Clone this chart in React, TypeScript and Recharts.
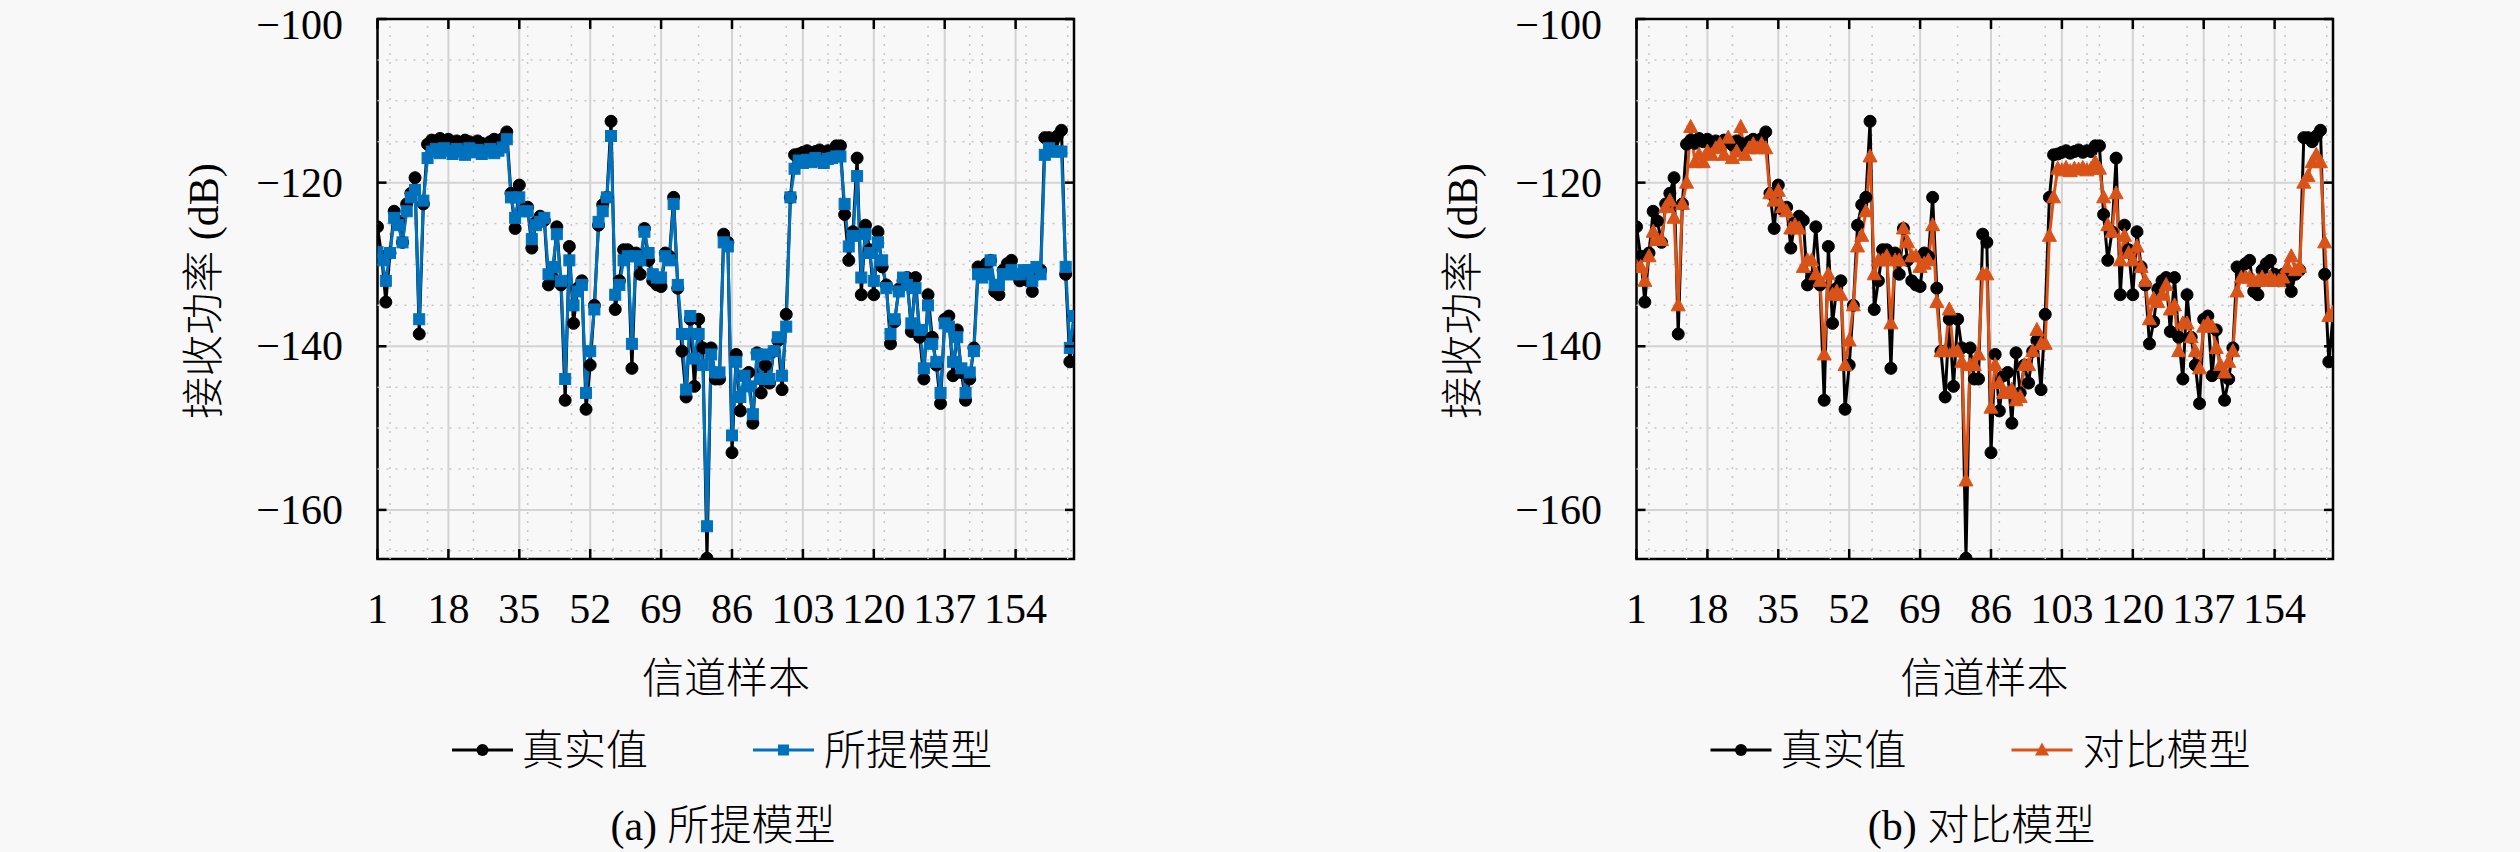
import React from 'react';
import { LineChart, Line, XAxis, YAxis, CartesianGrid, ReferenceLine, ReferenceArea } from 'recharts';

// ---------- data ----------
const samples: number[] = Array.from({ length: 168 }, (_, i) => i + 1);

const truth: number[] = [
  -125.4, -129.0, -134.6, -128.6, -123.5, -124.7, -127.3, -122.6, -121.3, -119.4,
  -138.5, -122.6, -115.3, -114.8, -115.2, -114.6, -115.0, -114.7, -115.1, -114.9,
  -115.3, -114.8, -115.0, -115.4, -114.9, -115.2, -115.6, -115.0, -114.7, -115.3,
  -114.6, -113.8, -121.3, -125.6, -120.3, -123.3, -123.0, -128.0, -124.8, -124.1,
  -124.6, -132.5, -131.6, -125.4, -132.5, -146.6, -127.8, -137.2, -132.9, -132.0,
  -147.7, -142.3, -135.0, -125.2, -122.7, -121.8, -112.5, -135.5, -132.0, -128.2,
  -128.2, -142.7, -128.6, -131.2, -125.6, -129.5, -132.0, -132.5, -132.7, -128.6,
  -129.0, -121.8, -132.9, -140.6, -146.2, -136.7, -144.9, -136.7, -140.2, -165.9,
  -140.2, -144.0, -144.0, -126.3, -127.3, -153.0, -141.0, -147.9, -143.6, -143.2,
  -149.4, -140.8, -145.7, -142.3, -144.5, -140.6, -139.3, -145.3, -136.1, -121.8,
  -116.6, -116.5, -116.3, -116.1, -116.4, -116.2, -116.0, -116.3, -116.1, -116.2,
  -115.5, -115.5, -123.9, -129.5, -126.0, -117.0, -133.7, -125.2, -128.2, -133.7,
  -126.0, -130.3, -132.5, -139.7, -137.0, -133.0, -132.0, -131.6, -138.2, -131.6,
  -138.9, -144.0, -133.7, -138.9, -142.3, -147.0, -136.7, -136.3, -143.6, -138.0,
  -143.2, -146.6, -144.0, -140.2, -130.3, -131.2, -129.9, -129.5, -133.3, -133.7,
  -130.7, -129.9, -129.5, -131.2, -132.0, -131.2, -132.0, -133.3, -131.2, -130.7,
  -114.5, -114.5, -115.0, -114.3, -113.6, -131.2, -141.9, -136.3,
];

const proposed: number[] = [
  -128.5, -129.5, -132.0, -128.6, -124.3, -125.2, -127.3, -123.5, -121.8, -120.9,
  -136.7, -122.2, -117.0, -116.2, -115.9, -116.4, -115.8, -116.1, -116.5, -115.9,
  -116.2, -116.6, -115.8, -116.3, -116.0, -116.5, -116.2, -115.9, -116.4, -116.1,
  -115.7, -114.7, -121.8, -124.3, -121.8, -123.5, -123.5, -126.9, -125.2, -124.8,
  -124.3, -131.2, -130.3, -126.3, -132.0, -144.0, -129.5, -135.0, -133.3, -132.5,
  -145.7, -140.6, -135.5, -124.8, -123.5, -121.8, -114.3, -133.7, -132.5, -129.5,
  -129.0, -139.7, -129.0, -129.5, -126.0, -128.6, -131.2, -131.6, -131.6, -129.0,
  -129.5, -122.6, -132.5, -138.5, -145.3, -136.3, -141.5, -138.5, -142.3, -162.0,
  -141.0, -143.2, -143.2, -127.3, -127.8, -150.9, -141.9, -146.2, -143.6, -144.9,
  -148.3, -141.0, -144.0, -141.0, -144.0, -140.6, -138.9, -143.6, -137.6, -121.8,
  -118.3, -117.3, -117.6, -117.2, -117.5, -117.0, -117.4, -117.6, -117.1, -117.0,
  -116.8, -116.8, -122.6, -127.8, -126.5, -119.2, -131.6, -126.3, -128.6, -132.0,
  -127.3, -129.5, -132.9, -138.5, -136.7, -133.3, -131.6, -132.5, -137.2, -132.9,
  -138.0, -142.7, -135.0, -139.7, -141.9, -145.7, -137.2, -137.6, -141.9, -138.9,
  -142.7, -145.7, -143.2, -140.6, -131.2, -131.6, -131.2, -129.5, -132.5, -132.5,
  -131.2, -131.2, -130.7, -131.2, -131.2, -130.7, -130.7, -132.0, -130.3, -131.2,
  -116.6, -115.8, -116.2, -116.2, -116.2, -130.3, -140.2, -136.3,
];

const comparison: number[] = [
  -130.3, -130.3, -132.0, -129.0, -126.0, -127.0, -127.0, -123.0, -122.2, -124.3,
  -135.0, -122.6, -120.0, -113.2, -117.5, -116.6, -117.5, -116.2, -116.6, -115.8,
  -115.3, -116.6, -114.5, -117.0, -116.2, -113.2, -116.6, -115.8, -115.3, -115.8,
  -115.3, -115.8, -121.3, -122.2, -121.0, -123.0, -123.5, -125.6, -125.2, -125.6,
  -130.3, -129.5, -129.5, -131.2, -132.0, -141.0, -131.2, -133.7, -133.3, -133.7,
  -142.3, -139.3, -135.0, -127.8, -126.5, -123.5, -116.8, -131.2, -129.5, -129.5,
  -129.0, -137.2, -129.5, -129.5, -125.6, -127.3, -129.0, -129.0, -130.3, -129.9,
  -129.5, -125.2, -134.6, -140.6, -140.6, -135.5, -140.6, -140.6, -141.9, -156.4,
  -142.3, -142.3, -141.0, -131.2, -131.2, -147.5, -142.3, -144.5, -145.7, -145.7,
  -145.3, -146.6, -146.2, -142.3, -142.3, -140.6, -138.0, -139.7, -139.7, -126.5,
  -121.8, -118.3, -118.5, -118.2, -118.6, -118.3, -118.4, -118.2, -118.5, -118.3,
  -117.5, -118.3, -121.8, -125.2, -126.0, -121.3, -129.5, -126.5, -128.6, -129.5,
  -127.8, -130.3, -132.0, -136.7, -134.2, -134.6, -133.7, -132.5, -135.5, -135.0,
  -140.6, -137.2, -137.2, -138.9, -140.6, -142.7, -137.6, -137.2, -137.6, -140.2,
  -142.3, -143.2, -141.9, -140.6, -133.3, -131.6, -131.6, -131.6, -132.0, -132.0,
  -131.6, -132.0, -131.6, -132.0, -132.0, -131.6, -130.3, -129.0, -130.7, -130.3,
  -120.0, -119.2, -117.5, -116.6, -117.5, -127.3, -136.3, -135.9,
];

const xTicks: number[] = [1, 18, 35, 52, 69, 86, 103, 120, 137, 154];
const yTicks: number[] = [-100, -120, -140, -160];
const xMinor: number[] = [4, 13, 24, 37, 47.5, 57.5, 67.5, 78, 88, 99, 109, 112, 122.5, 133, 143, 146, 156.5, 166.5];
const yMinor: number[] = [-105, -110, -115, -125, -130, -135, -145, -150, -155, -165];
const xDomain: [number, number] = [1, 168];
const yDomain: [number, number] = [-166, -100];

const data = samples.map((x, i) => ({ x, truth: truth[i], proposed: proposed[i], comparison: comparison[i] }));

// ---------- layout ----------
const CHART_W = 1260;
const CHART_H = 852;
const PLOT_LEFT = 377.5;
const PLOT_RIGHT = 1074;
const PLOT_TOP = 19;
const PLOT_BOTTOM = 559;
const Y_AXIS_W = 60;
const X_AXIS_H = 30;
const PANEL_SHIFT = 1258.5;
const FONT = "'Liberation Serif', 'Noto Sans CJK SC', serif";
const FS = 42;
const BLUE = '#0072BD';
const ORANGE = '#D95319';
const BG = '#f8f8f8';
const LW = 3;

const fmt = (v: number) => (v < 0 ? '\u2212' + Math.abs(v) : String(v));

const XTick = (props: any) => {
  const { x, payload } = props;
  return (
    <g>
      <line x1={x} x2={x} y1={PLOT_BOTTOM} y2={PLOT_BOTTOM - 10} stroke="#000" strokeWidth={2.5} />
      <line x1={x} x2={x} y1={PLOT_TOP} y2={PLOT_TOP + 10} stroke="#000" strokeWidth={2.5} />
      <text x={x} y={623} textAnchor="middle" fontSize={FS} fontFamily={FONT} fill="#000">
        {payload.value}
      </text>
    </g>
  );
};

const YTick = (props: any) => {
  const { y, payload } = props;
  const baseline = Math.max(y + 14, 39);
  return (
    <g>
      <line x1={PLOT_LEFT} x2={PLOT_LEFT + 9} y1={y} y2={y} stroke="#000" strokeWidth={2.5} />
      <line x1={PLOT_RIGHT} x2={PLOT_RIGHT - 9} y1={y} y2={y} stroke="#000" strokeWidth={2.5} />
      <text x={343} y={baseline} textAnchor="end" fontSize={FS} fontFamily={FONT} fill="#000">
        {fmt(payload.value)}
      </text>
    </g>
  );
};

const CircleDot = (props: any) => {
  const { cx, cy, index } = props;
  if (cx == null || cy == null) return <g key={'c' + index} />;
  return <circle key={'c' + index} cx={cx} cy={cy} r={6} fill="#000" stroke="#000" strokeWidth={1} />;
};

const SquareDot = (props: any) => {
  const { cx, cy, index } = props;
  if (cx == null || cy == null) return <g key={'s' + index} />;
  return <rect key={'s' + index} x={cx - 5.5} y={cy - 5.5} width={11} height={11} fill={BLUE} stroke={BLUE} strokeWidth={1} />;
};

const TriDot = (props: any) => {
  const { cx, cy, index } = props;
  if (cx == null || cy == null) return <g key={'t' + index} />;
  const pts = `${cx},${cy - 7.5} ${cx - 7},${cy + 5.5} ${cx + 7},${cy + 5.5}`;
  return <polygon key={'t' + index} points={pts} fill={ORANGE} stroke={ORANGE} strokeWidth={1} />;
};

function Panel({ left, modelKey, color, dot }: { left: number; modelKey: string; color: string; dot: any }) {
  return (
    <div style={{ position: 'absolute', left, top: 0, width: CHART_W, height: CHART_H }}>
      <LineChart
        width={CHART_W}
        height={CHART_H}
        data={data}
        margin={{
          top: PLOT_TOP,
          left: PLOT_LEFT - Y_AXIS_W,
          right: CHART_W - PLOT_RIGHT,
          bottom: CHART_H - PLOT_BOTTOM - X_AXIS_H,
        }}
      >
        <CartesianGrid stroke="#d3d3d3" strokeWidth={2} />
        {xMinor.map((v) => (
          <ReferenceLine key={'xm' + v} x={v} stroke="#c6c6c6" strokeWidth={1.5} strokeDasharray="2 7" />
        ))}
        {yMinor.map((v) => (
          <ReferenceLine key={'ym' + v} y={v} stroke="#c6c6c6" strokeWidth={1.5} strokeDasharray="2 7" />
        ))}
        <XAxis
          dataKey="x"
          type="number"
          domain={xDomain}
          ticks={xTicks}
          interval={0}
          allowDataOverflow
          height={X_AXIS_H}
          axisLine={false}
          tickLine={false}
          tick={<XTick />}
        />
        <YAxis
          type="number"
          domain={yDomain}
          ticks={yTicks}
          interval={0}
          allowDataOverflow
          width={Y_AXIS_W}
          axisLine={false}
          tickLine={false}
          tick={<YTick />}
        />
        <ReferenceArea x1={xDomain[0]} x2={xDomain[1]} y1={yDomain[0]} y2={yDomain[1]} fill="none" fillOpacity={0} stroke="#000" strokeWidth={2.5} strokeOpacity={1} />
        <Line dataKey="truth" stroke="#000" strokeWidth={LW} dot={CircleDot} activeDot={false} isAnimationActive={false} />
        <Line dataKey={modelKey} stroke={color} strokeWidth={LW} dot={dot} activeDot={false} isAnimationActive={false} />
      </LineChart>
    </div>
  );
}

function Overlay() {
  const items = [
    { dx: 0, label: '所提模型', color: BLUE, mark: 'square', cap: '(a) 所提模型' },
    { dx: PANEL_SHIFT, label: '对比模型', color: ORANGE, mark: 'tri', cap: '(b) 对比模型' },
  ];
  return (
    <svg width={2520} height={852} style={{ position: 'absolute', left: 0, top: 0, pointerEvents: 'none' }}>
      {items.map((it, k) => {
        const d = it.dx;
        const ly = 750;
        return (
          <g key={k} fontFamily={FONT} fontSize={FS} fill="#000" fontWeight={300}>
            <text x={726 + d} y={678} dy={15} textAnchor="middle">信道样本</text>
            <text transform={`translate(${203 + d},291) rotate(-90)`} textAnchor="middle" dy={15}>接收功率 (dB)</text>
            <line x1={452 + d} x2={513 + d} y1={ly} y2={ly} stroke="#000" strokeWidth={LW} />
            <circle cx={482.5 + d} cy={ly} r={6} fill="#000" />
            <text x={522 + d} y={ly} dy={15}>真实值</text>
            <line x1={753 + d} x2={814 + d} y1={ly} y2={ly} stroke={it.color} strokeWidth={LW} />
            {it.mark === 'square' ? (
              <rect x={783.5 + d - 5.5} y={ly - 5.5} width={11} height={11} fill={it.color} />
            ) : (
              <polygon points={`${783.5 + d},${ly - 7.5} ${776.5 + d},${ly + 5.5} ${790.5 + d},${ly + 5.5}`} fill={it.color} />
            )}
            <text x={824 + d} y={ly} dy={15}>{it.label}</text>
            <text x={723 + d} y={825} dy={15} textAnchor="middle">{it.cap}</text>
          </g>
        );
      })}
    </svg>
  );
}

export default function App() {
  return (
    <div style={{ position: 'absolute', left: 0, top: 0, width: 2520, height: 852, background: BG, overflow: 'hidden' }}>
      <Panel left={0} modelKey="proposed" color={BLUE} dot={SquareDot} />
      <Panel left={PANEL_SHIFT} modelKey="comparison" color={ORANGE} dot={TriDot} />
      <Overlay />
    </div>
  );
}
